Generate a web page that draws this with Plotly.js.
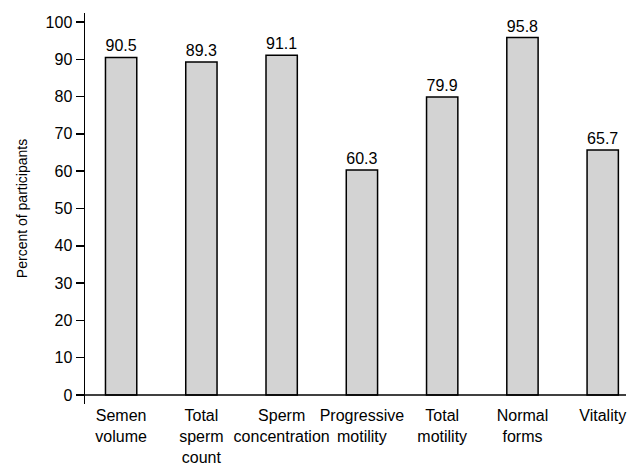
<!DOCTYPE html>
<html>
<head>
<meta charset="utf-8">
<script src="https://cdn.plot.ly/plotly-3.0.1.min.js"></script>
<style>html,body{margin:0;padding:0;background:#fff;}#chart{width:638px;height:468px;}</style>
</head>
<body>
<div id="chart"></div>
<script>
var categories = ["Semen<br>volume", "Total<br>sperm<br>count", "Sperm<br>concentration", "Progressive<br>motility", "Total<br>motility", "Normal<br>forms", "Vitality"];
var percentValues = [90.5, 89.3, 91.1, 60.3, 79.9, 95.8, 65.7];
var valueLabels = ["90.5", "89.3", "91.1", "60.3", "79.9", "95.8", "65.7"];
var yTickValues = [0, 10, 20, 30, 40, 50, 60, 70, 80, 90, 100];

var FONT = '"Liberation Sans", Arial, sans-serif';

var trace = {
  type: 'bar',
  x: categories,
  y: percentValues,
  text: valueLabels,
  textposition: 'outside',
  cliponaxis: false,
  textfont: {family: FONT, size: 16, color: '#000'},
  marker: {color: '#d3d3d3', line: {color: '#000', width: 1.5}},
  width: 0.39,
  hoverinfo: 'none'
};

var layout = {
  width: 638, height: 468,
  margin: {l: 85, r: 12, t: 13, b: 64},
  paper_bgcolor: '#fff', plot_bgcolor: '#fff',
  font: {family: FONT, size: 16, color: '#000'},
  showlegend: false,
  xaxis: {
    type: 'category',
    range: [-0.45, 6.29],
    tickangle: 0,
    showline: false, showgrid: false, zeroline: false,
    ticks: '', ticklen: 0,
    tickfont: {family: FONT, size: 16, color: '#000'},
    fixedrange: true
  },
  yaxis: {
    range: [-2.4, 102.4],
    tickvals: yTickValues,
    ticktext: yTickValues.map(String),
    showline: true, linecolor: '#000', linewidth: 1.5,
    showgrid: false, zeroline: false,
    ticks: 'outside', ticklen: 8, tickwidth: 1.5, tickcolor: '#000',
    tickfont: {family: FONT, size: 16, color: '#000'},
    title: {text: 'Percent of participants', font: {family: FONT, size: 14, color: '#000'}, standoff: 14},
    fixedrange: true
  },
  shapes: [{
    type: 'line', xref: 'paper', yref: 'y',
    x0: 0, x1: 1, y0: 0, y1: 0,
    line: {color: '#000', width: 1.5}
  }]
};

Plotly.newPlot('chart', [trace], layout, {displayModeBar: false, staticPlot: true});
</script>
</body>
</html>
